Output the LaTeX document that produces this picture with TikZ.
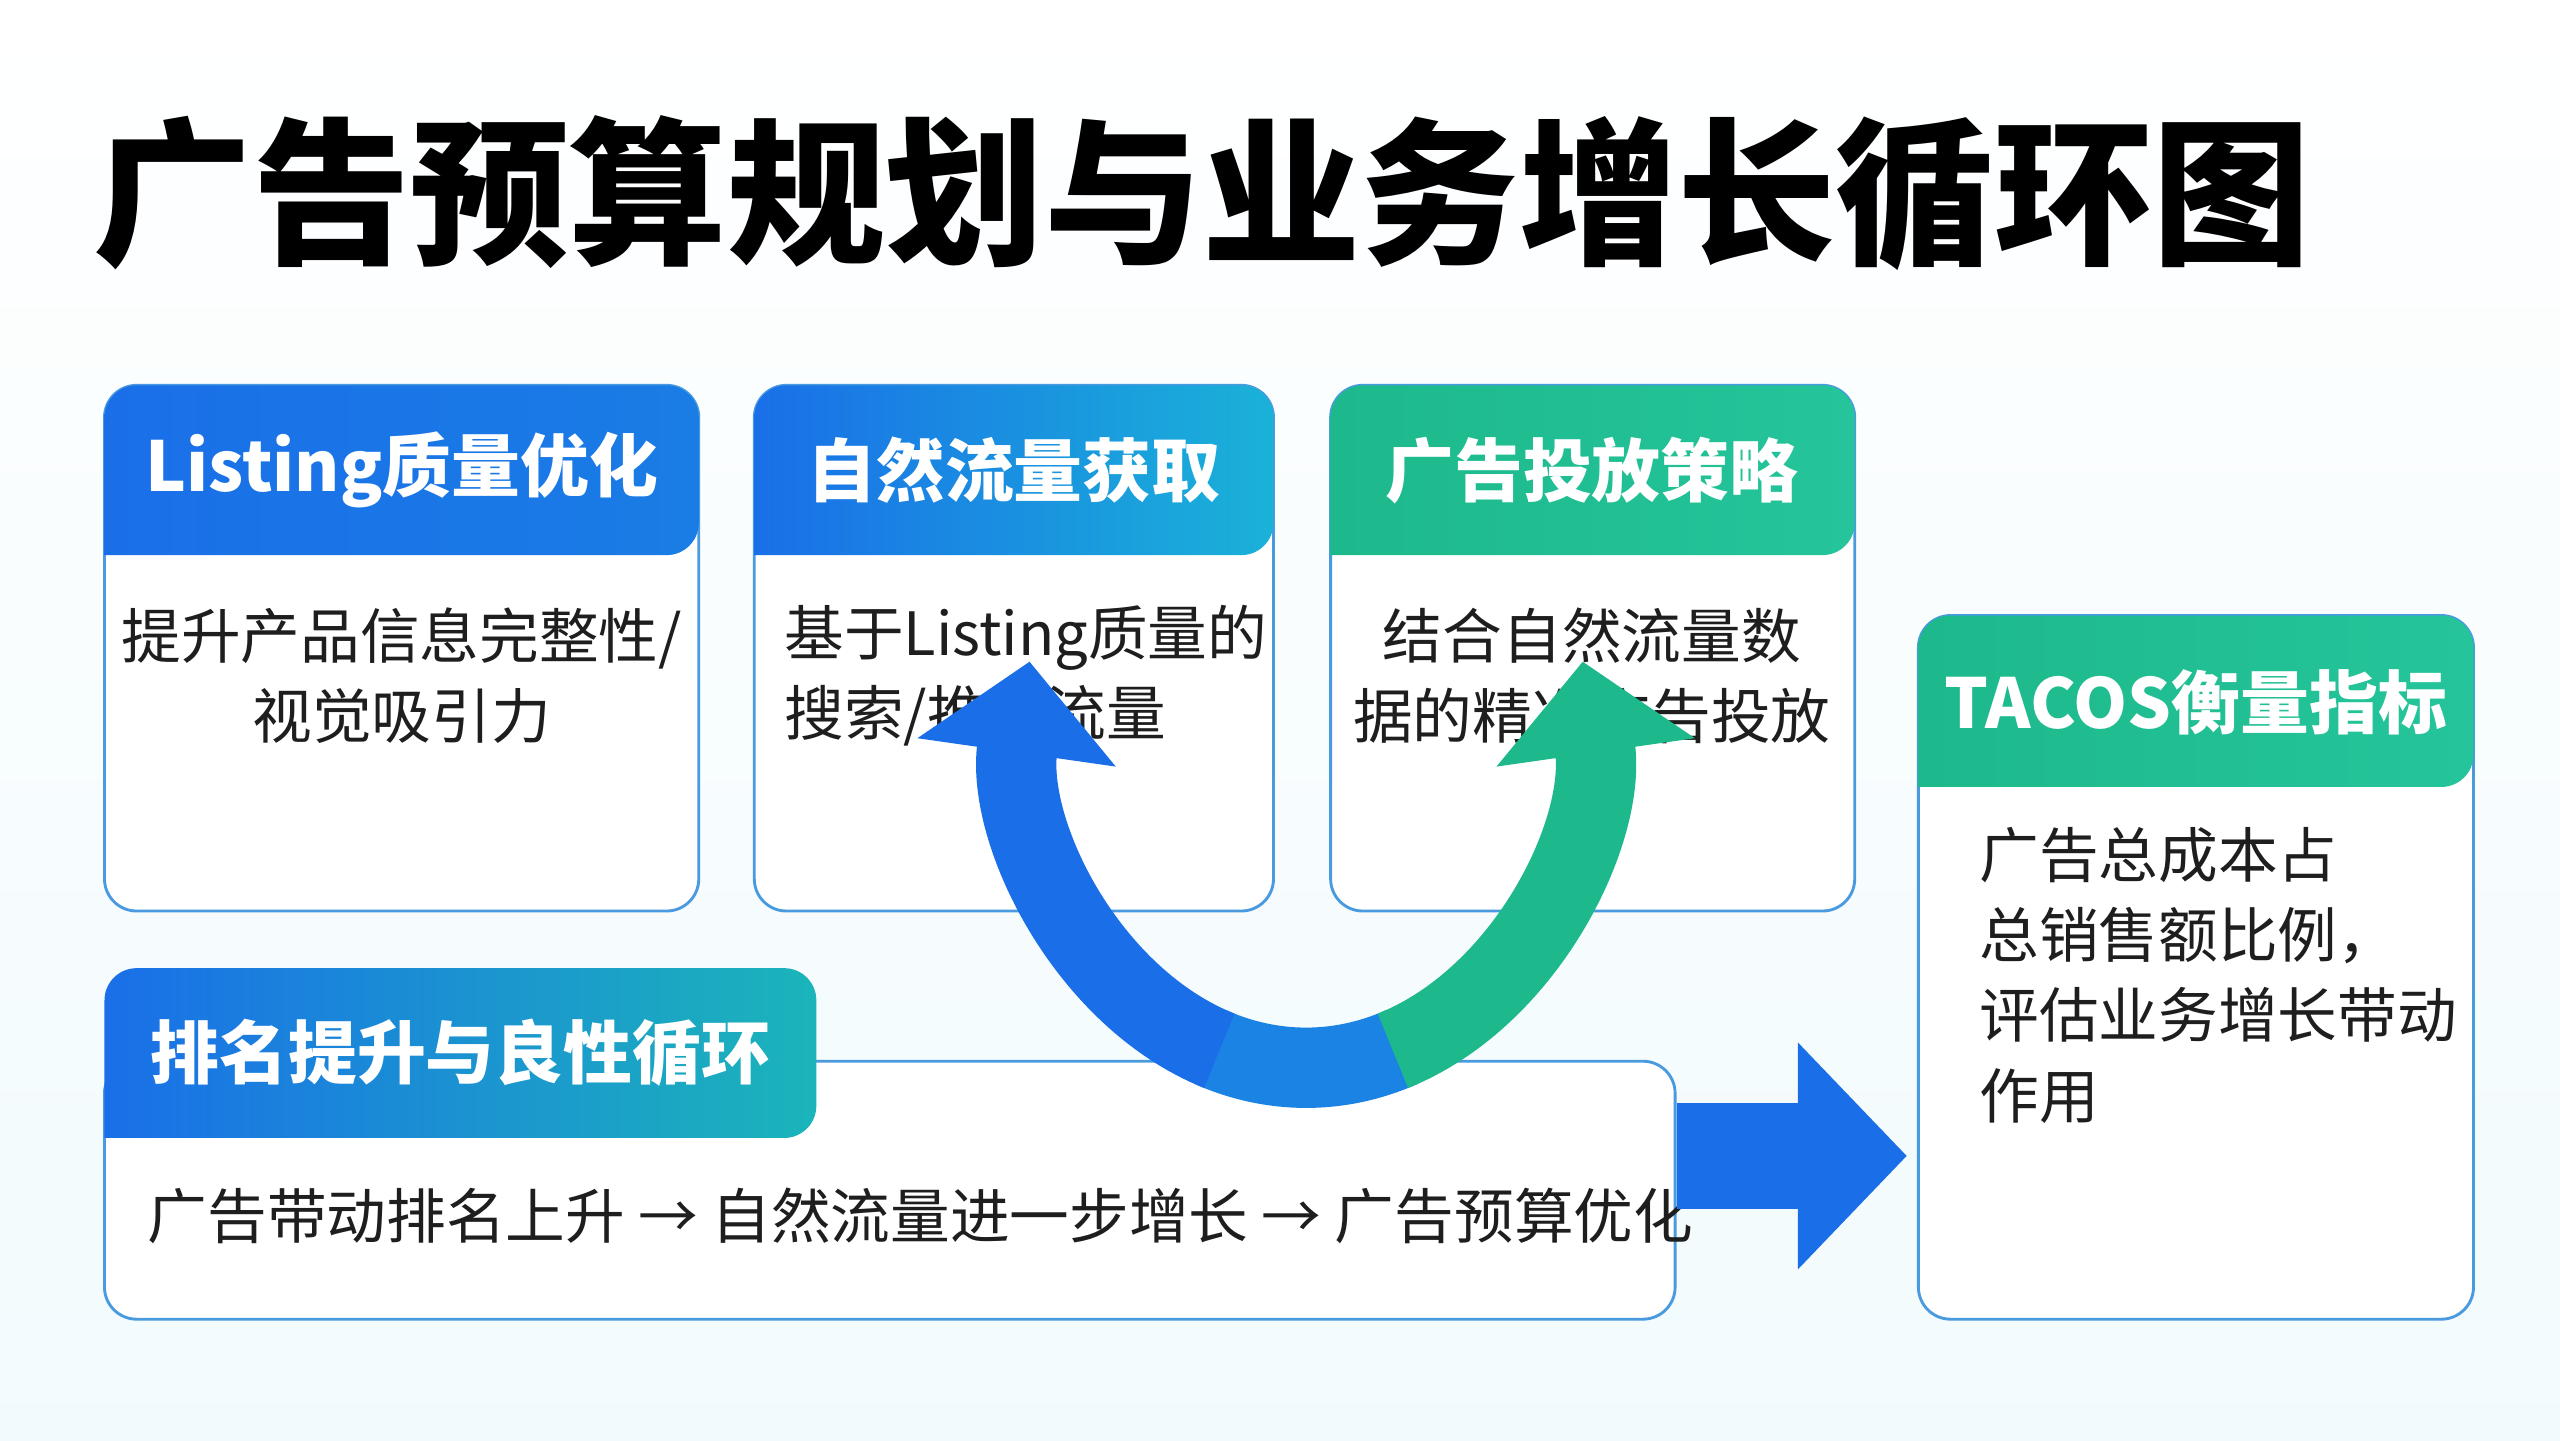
\documentclass[tikz,border=0pt]{standalone}
\usepackage{fontspec}
\setmainfont{Noto Sans CJK SC}
\newfontfamily\cjkb{Noto Sans CJK SC Bold}
\usetikzlibrary{arrows.meta}
\definecolor{bA}{HTML}{1A6FE8}
\definecolor{bB}{HTML}{1AB2D8}
\definecolor{gA}{HTML}{1DB98C}
\definecolor{gB}{HTML}{25C49A}
\definecolor{bord}{HTML}{4A9AE0}
\definecolor{txt}{HTML}{1E1E1E}
\tikzset{
  bodybox/.style={draw=bord,line width=2.5pt,fill=white,rounded corners=28pt},
  headtxt/.style={text=white,font=\fontsize{60}{66}\selectfont\bfseries},
  bodytxt/.style={text=txt,font=\fontsize{52}{70}\selectfont},
}
\newcommand\hdr[6]{% x1 x2 ytop ybot left right
  \shade[left color=#5,right color=#6] (#1,#4) [rounded corners=28pt] -- (#1,#3) -- (#2,#3) -- (#2,#4) [sharp corners] -- cycle;}
\begin{document}
\begin{tikzpicture}[x=0.05cm,y=0.05cm]
\useasboundingbox (0,0) rectangle (1568,882);
\shade[top color=white,bottom color=white!85!bB!40] (0,0) rectangle (1568,882);
\node[anchor=west,text=black,font=\fontsize{138}{150}\selectfont\bfseries] (title) at (55,764) {广告预算规划与业务增长循环图};
% box1
\draw[bodybox] (64,324) rectangle (428,646);
\hdr{64}{428}{646}{542}{bA}{bA!80!bB}
\node[headtxt] (h1) at (246,594) {Listing质量优化};
\node[bodytxt,align=center] (t1) at (246,468) {提升产品信息完整性/\\视觉吸引力};
% box2
\draw[bodybox] (462,324) rectangle (780,646);
\hdr{462}{780}{646}{542}{bA}{bB}
\node[headtxt] (h2) at (621,594) {自然流量获取};
\node[bodytxt,align=left,anchor=west] (t2) at (478,468) {基于Listing质量的\\搜索/推荐流量};
% box3
\draw[bodybox] (815,324) rectangle (1136,646);
\hdr{815}{1136}{646}{542}{gA}{gB}
\node[headtxt] (h3) at (975,594) {广告投放策略};
\node[bodytxt,align=center] (t3) at (975,468) {结合自然流量数\\据的精准广告投放};
% box4
\draw[bodybox] (1175,74) rectangle (1515,505);
\hdr{1175}{1515}{505}{400}{gA}{gB}
\node[headtxt] (h4) at (1345,452) {TACOS衡量指标};
\node[bodytxt,align=left,anchor=north west] (t4) at (1210,378) {广告总成本占\\总销售额比例，\\评估业务增长带动\\作用};
% box5
\draw[bodybox] (64,74) rectangle (1026,232);
\hdr{64}{500}{289}{185}{bA}{bB!60!gA}
\node[headtxt] (h5) at (282,237) {排名提升与良性循环};
\node[bodytxt,anchor=west] (t5) at (88,137) {广告带动排名上升 → 自然流量进一步增长 → 广告预算优化};
% big right arrow
\coordinate (ra) at (1027,174);
\coordinate (rb) at (1168,174);
\draw[line width=92pt,bA,-{Triangle[length=95pt,width=192pt]},shorten >=0pt] (ra) -- (rb);
% curved arrow
\coordinate (cc) at (800,440);
\draw[line width=70pt,bA!70!bB] ([shift={(250:172 and 212)}]cc) arc[start angle=250,end angle=290,x radius=172,y radius=212];
\draw[line width=70pt,bA,-{Triangle[length=80pt,width=170pt]}] ([shift={(252:172 and 212)}]cc) arc[start angle=252,end angle=170,x radius=172,y radius=212];
\draw[line width=70pt,gA,-{Triangle[length=80pt,width=170pt]}] ([shift={(288:172 and 212)}]cc) arc[start angle=288,end angle=370,x radius=172,y radius=212];
\end{tikzpicture}
\end{document}
